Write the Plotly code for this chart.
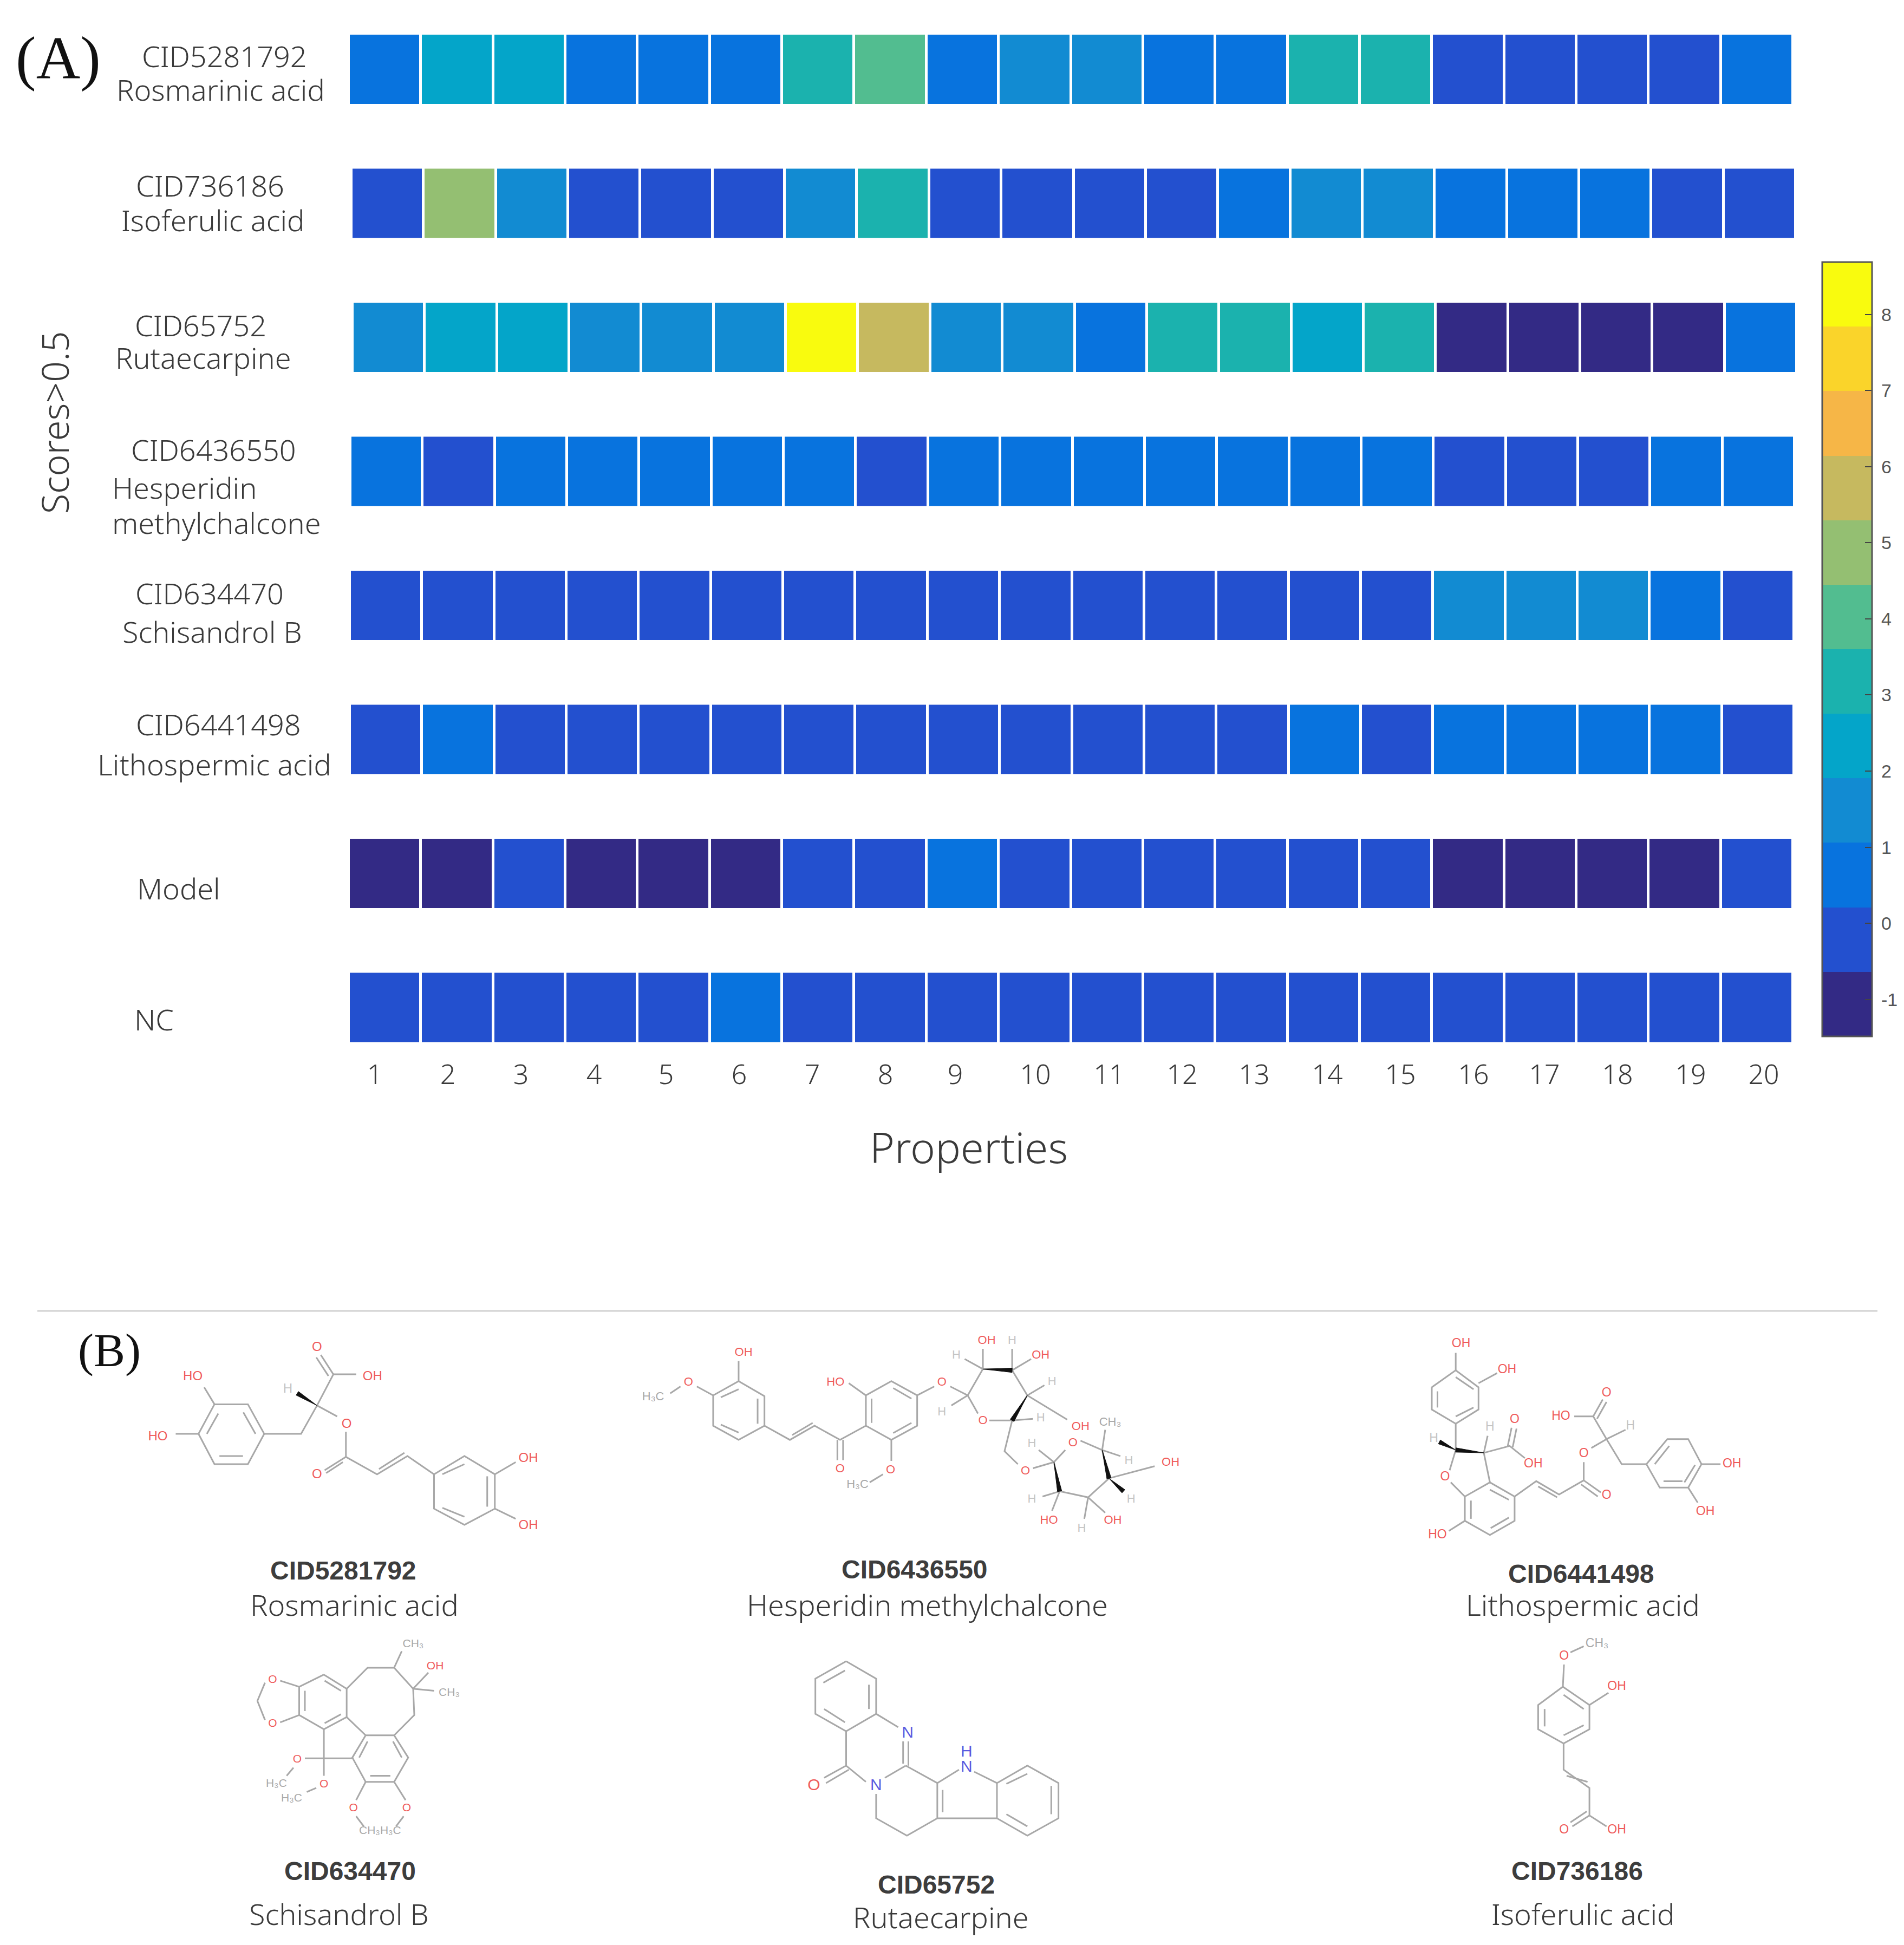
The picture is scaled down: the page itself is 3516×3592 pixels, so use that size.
import plotly.graph_objects as go

W, H = 3516, 3592
PAGE = 8   # the page's own margin

# ---------- chart values ----------
properties = list(range(1, 21))
compounds = ["CID5281792", "CID736186", "CID65752", "CID6436550",
             "CID634470", "CID6441498", "Model", "NC"]
# colour-band values
D, R, B, M, C, T, G, P, K, Y = -1, 0, 1, 1.5, 2, 3, 4, 5, 5.7, 8
cid5281792 = [B, C, C, B, B, B, T, G, B, M, M, B, B, T, T, R, R, R, R, B]
cid736186  = [R, P, M, R, R, R, M, T, R, R, R, R, B, M, M, B, B, B, R, R]
cid65752   = [M, C, C, M, M, M, Y, K, M, M, B, T, T, C, T, D, D, D, D, B]
cid6436550 = [B, R, B, B, B, B, B, R, B, B, B, B, B, B, B, R, R, R, B, B]
cid634470  = [R, R, R, R, R, R, R, R, R, R, R, R, R, R, R, M, M, M, B, R]
cid6441498 = [R, B, R, R, R, R, R, R, R, R, R, R, R, B, R, B, B, B, B, R]
model      = [D, D, R, D, D, D, R, R, B, R, R, R, R, R, R, D, D, D, D, R]
nc         = [R, R, R, R, R, B, R, R, R, R, R, R, R, R, R, R, R, R, R, R]
rows = [cid5281792, cid736186, cid65752, cid6436550, cid634470, cid6441498, model, nc]
colorbar_ticks = [-1, 0, 1, 2, 3, 4, 5, 6, 7, 8]

# ---------- styling / layout ----------
band_colors = ["#332a85", "#2350cf", "#0873de", "#128bd2", "#04a5c9", "#1bb2ae",
               "#52bd90", "#94bf72", "#c6b95f", "#f6b647", "#fad42a", "#f9fb0e"]
zmin, zmax = -1.486, 8.687
colorscale = []
for i, col in enumerate(band_colors):
    colorscale += [[i / 12, col], [(i + 1) / 12, col]]

cell_w = 133.35
pitch = 247.5
x_left = 644
row0 = 128
row_left_px = [644, 649, 651, 647, 646, 646, 644, 644]
tick_px = [692, 827, 962, 1097, 1230, 1365, 1500, 1635, 1764, 1912,
           2048, 2183, 2316, 2451, 2586, 2721, 2852, 2987, 3122, 3257]
plot_bottom = 1951
cbar_top, cbar_bottom = 484, 1914

def p_of(px):
    return 0.5 + (px - x_left) / cell_w

def r_of(px):
    return (px - row0) / pitch

fig = go.Figure()
for i, vals in enumerate(rows):
    fig.add_trace(go.Heatmap(
        z=[vals], x0=p_of(row_left_px[i]) + 0.5, dx=1, y0=i, dy=128 / pitch,
        coloraxis="coloraxis", xgap=5, ygap=0, xaxis="x", yaxis="y",
        name=compounds[i], hoverongaps=False))

# ---------- text ----------
SANS = "Noto Sans"
texts = [
    ("CID5281792", 414, 103, 54), ("Rosmarinic acid", 407, 165, 54),
    ("CID736186", 388, 342, 54), ("Isoferulic acid", 393, 406, 54),
    ("CID65752", 370, 600, 54), ("Rutaecarpine", 375, 660, 54),
    ("CID6436550", 394, 830, 54), ("Hesperidin", 340, 900, 54),
    ("methylchalcone", 400, 965, 54),
    ("CID634470", 387, 1095, 54), ("Schisandrol B", 392, 1166, 54),
    ("CID6441498", 403, 1337, 54), ("Lithospermic acid", 396, 1411, 54),
    ("Model", 330, 1640, 54), ("NC", 284, 1882, 54),
    ("Properties", 1789, 2118, 78),
    ("Rosmarinic acid", 654, 2963, 54), ("Schisandrol B", 626, 3534, 54),
    ("Hesperidin methylchalcone", 1712, 2963, 54), ("Rutaecarpine", 1737, 3540, 54),
    ("Lithospermic acid", 2923, 2963, 54), ("Isoferulic acid", 2923, 3534, 54),
]
cid_texts = [
    ("CID5281792", 634, 2900), ("CID634470", 646, 3455),
    ("CID6436550", 1689, 2898), ("CID65752", 1729, 3480),
    ("CID6441498", 2920, 2906), ("CID736186", 2912, 3455),
]
annotations = []
def note(t, x, y, size, family=SANS, color="#3a3a3a", weight=300, angle=0, anchor="center"):
    annotations.append(dict(text=t, x=x, y=y, xref="x2", yref="y2", showarrow=False,
                            xanchor=anchor, yanchor="middle", textangle=angle,
                            font=dict(family=family, size=size, color=color, weight=weight)))
for t, x, y, s in texts:
    note(t, x, y, s)
for t, x, y in cid_texts:
    note(t, x, y, 48, family="Liberation Sans", color="#3d3d3d", weight=700)
note("(A)", 107, 106, 113, family="Liberation Serif", color="#111111", weight=400)
note("(B)", 202, 2493, 87, family="Liberation Serif", color="#111111", weight=400)
note("Scores&gt;0.5", 100, 780, 68, angle=-90)
# colour bar numbers: placed from the same value scale as the bar itself
for v in colorbar_ticks:
    note(str(v), 3472, cbar_top + (zmax - v) / (zmax - zmin) * (cbar_bottom - cbar_top), 34,
         family="Liberation Sans", color="#555555", weight=400, anchor="left")

# ---------- structures of panel B (drawn as line diagrams) ----------
GREY = "#a8a8a8"
RED = "#ef5a5a"
BLUE = "#5a5ae0"
SOFT = "#c4c4c4"

def ring(*pts):
    return list(pts) + [pts[0]]

mol_rosmarinic = dict(origin=(100, 2420), size=24, lines=[
    ring((380,305),(422,232),(510,232),(553,305),(510,380),(422,380)),
    [(402,305),(432,255)], [(498,252),(530,305)], [(435,360),(497,360)],
    [(395,190),(422,232)], [(320,305),(380,305)],
    [(553,305),(650,305),(692,235),(735,158),(795,158)],
    [(735,158),(702,110)], [(722,162),(690,116)],
    [(692,235),(745,262)], [(768,300),(768,362),(850,405),(930,360),(1000,405)],
    [(768,362),(712,395)], [(760,375),(716,402)], [(855,392),(922,352)],
    ring((1000,405),(1080,360),(1160,405),(1160,490),(1080,530),(1000,490)),
    [(1022,405),(1080,380)], [(1140,410),(1140,485)], [(1022,488),(1080,510)],
    [(1160,405),(1215,375)], [(1160,490),(1215,515)]],
    wedges=[((692,235),(640,205))],
    labels=[("HO",365,165,RED),("HO",273,313,RED),("O",692,92,RED),("OH",838,165,RED),
            ("H",615,195,SOFT),("O",770,282,RED),("O",692,407,RED),("OH",1248,367,RED),("OH",1248,533,RED)])

mol_schisandrol = dict(origin=(100, 2420), size=21, lines=[
    ring((710,900),(770,935),(770,1005),(710,1035),(645,1000),(645,930)),
    [(660,940),(660,990)], [(712,915),(755,940)], [(712,1020),(755,998)],
    [(645,930),(595,915)], [(645,1000),(595,1018)], [(555,920),(535,965),(555,1012)],
    [(770,935),(825,883),(895,883),(945,935),(948,1000),(895,1050)], [(820,1050),(770,1005)],
    [(895,883),(915,842)], [(945,935),(985,895)], [(945,935),(1000,940)],
    ring((820,1050),(895,1050),(932,1105),(895,1165),(820,1165),(785,1105)),
    [(825,1065),(803,1105)], [(892,1065),(915,1105)], [(832,1150),(885,1150)],
    [(710,1035),(710,1150)], [(660,1107),(785,1107)],
    [(630,1130),(612,1150)], [(690,1180),(665,1190)],
    [(820,1165),(795,1210)], [(895,1165),(925,1210)], [(795,1250),(815,1275)], [(920,1250),(900,1275)]],
    wedges=[],
    labels=[("O",575,913,RED),("O",575,1022,RED),("CH₃",945,825,GREY),("OH",1003,880,RED),
            ("CH₃",1040,945,GREY),("O",640,1110,RED),("O",710,1172,RED),("H₃C",585,1170,GREY),
            ("H₃C",625,1207,GREY),("O",788,1230,RED),("O",928,1230,RED),("CH₃H₃C",858,1287,GREY)])

mol_hesperidin = dict(origin=(1150, 2420), size=22, lines=[
    ring((238,210),(305,175),(373,212),(373,285),(305,320),(238,285)),
    [(258,215),(305,195)], [(355,218),(355,280)], [(258,282),(305,302)],
    [(305,175),(305,125)], [(238,210),(195,188)], [(152,188),(125,205)],
    [(373,285),(440,320),(505,285),(572,320),(640,285)], [(446,308),(500,278)],
    [(565,320),(565,370)], [(580,320),(580,370)],
    ring((640,285),(640,210),(707,175),(775,210),(775,285),(707,320)),
    [(655,278),(655,218)], [(712,192),(760,218)], [(712,303),(760,278)],
    [(640,210),(595,180)], [(775,210),(820,188)], [(707,320),(707,372)], [(685,405),(650,425)],
    [(862,188),(908,210),(948,145),(1025,148),(1065,210),(1025,272),(965,272)], [(908,210),(935,255)],
    [(948,145),(948,95)], [(948,145),(900,120)], [(1025,148),(1025,95)], [(1025,148),(1075,120)],
    [(1065,210),(1110,185)], [(1065,210),(1170,270)], [(908,210),(865,235)], [(1025,272),(1080,268)],
    [(1025,272),(1005,348),(1040,380)], [(1080,390),(1135,375)],
    [(1135,375),(1165,345)], [(1205,322),(1262,345),(1280,415),(1225,462),(1150,447),(1135,375)],
    [(1262,345),(1270,295)], [(1262,345),(1310,360)], [(1280,415),(1400,385)],
    [(1225,462),(1215,515)], [(1225,462),(1270,500)], [(1150,447),(1130,495)],
    [(1150,447),(1105,460)], [(1135,375),(1095,345)]],
    wedges=[((948,145),(1025,148)), ((1065,210),(1025,272)), ((1135,375),(1150,447)),
            ((1262,345),(1280,415)), ((1280,415),(1318,447))],
    labels=[("OH",318,105,RED),("O",173,178,RED),("H₃C",80,215,GREY),("HO",560,178,RED),
            ("O",840,178,RED),("O",572,393,RED),("O",705,395,RED),("H₃C",618,432,GREY),
            ("OH",958,75,RED),("H",878,112,SOFT),("H",1025,75,SOFT),("OH",1100,112,RED),
            ("H",1130,177,SOFT),("OH",1205,288,RED),("H",840,252,SOFT),("H",1100,267,SOFT),
            ("O",948,273,RED),("O",1060,398,RED),("O",1185,328,RED),("CH₃",1283,278,GREY),
            ("H",1332,372,SOFT),("OH",1442,377,RED),("H",1338,467,SOFT),("H",1208,540,SOFT),
            ("OH",1290,520,RED),("HO",1122,520,RED),("H",1077,467,SOFT),("H",1077,330,SOFT)])

mol_rutaecarpine = dict(origin=(1150, 2420), size=30, lines=[
    ring((588,867),(667,910),(667,997),(588,1040),(507,997),(507,910)),
    [(585,890),(528,920)], [(648,925),(648,985)], [(530,985),(585,1018)],
    [(667,997),(725,1030)], [(738,1065),(738,1120)], [(752,1065),(752,1125)],
    [(745,1125),(690,1155)], [(640,1165),(588,1125),(588,1040)],
    [(588,1125),(530,1155)], [(595,1135),(535,1168)],
    [(667,1195),(667,1255),(748,1298),(828,1255),(828,1168),(745,1125)],
    [(828,1168),(885,1135)], [(925,1140),(985,1168)], [(828,1255),(985,1255)],
    [(842,1185),(842,1240)],
    ring((985,1168),(1065,1125),(1147,1168),(1147,1255),(1065,1298),(985,1255)),
    [(1010,1170),(1065,1145)], [(1128,1175),(1128,1245)], [(1010,1245),(1065,1275)]],
    wedges=[],
    labels=[("N",750,1045,BLUE),("N",667,1175,BLUE),("O",503,1175,RED),("N",905,1130,BLUE),("H",905,1092,BLUE)])

mol_lithospermic = dict(origin=(2416, 2420), size=23, lines=[
    ring((325,190),(388,148),(448,190),(448,245),(388,280),(325,245)),
    [(340,200),(340,240)], [(388,165),(435,195)], [(388,262),(435,240)],
    [(388,148),(388,105)], [(448,180),(497,155)], [(388,280),(388,345)],
    [(388,345),(372,395)], [(462,352),(472,310)], [(462,352),(530,335),(570,365)],
    [(525,335),(535,290)], [(538,338),(548,292)], [(462,352),(478,425)],
    ring((478,425),(543,460),(543,520),(478,555),(412,520),(412,460)),
    [(428,470),(428,515)], [(478,443),(528,468)], [(480,538),(528,512)],
    [(375,425),(412,460)], [(412,520),(370,545)],
    [(543,460),(600,422),(660,455),(725,420)], [(605,435),(655,462)],
    [(725,420),(770,450)], [(718,430),(762,460)], [(725,420),(725,375)],
    [(745,340),(785,318),(750,262),(700,262)], [(750,262),(775,220)], [(760,268),(785,226)],
    [(785,318),(825,380),(890,380)], [(785,318),(835,295)],
    ring((890,380),(945,318),(1000,318),(1035,380),(1000,438),(925,438)),
    [(912,380),(950,335)], [(1018,382),(990,425)], [(935,422),(985,422)],
    [(1035,380),(1085,380)], [(1000,438),(1025,475)]],
    wedges=[((388,345),(345,325)), ((462,352),(388,345))],
    labels=[("OH",402,83,RED),("OH",523,148,RED),("H",330,317,SOFT),("O",360,412,RED),
            ("H",478,290,SOFT),("OH",592,380,RED),("O",543,270,RED),("HO",340,555,RED),
            ("O",785,458,RED),("O",725,355,RED),("HO",665,262,RED),("O",785,205,RED),
            ("H",848,287,SOFT),("OH",1115,380,RED),("OH",1045,498,RED)])

mol_isoferulic = dict(origin=(2416, 2420), size=23, lines=[
    [(690,845),(725,830)], [(673,875),(670,930)],
    ring((670,930),(740,975),(740,1035),(672,1070),(605,1035),(605,975)),
    [(622,985),(622,1028)], [(672,950),(725,985)], [(672,1050),(725,1025)],
    [(740,975),(790,945)], [(672,1070),(672,1135),(740,1180),(740,1248)], [(680,1150),(735,1165)],
    [(740,1248),(695,1275)], [(733,1238),(690,1265)], [(740,1248),(785,1275)]],
    wedges=[],
    labels=[("O",673,855,RED),("CH₃",760,825,GREY),("OH",812,930,RED),("O",673,1285,RED),("OH",812,1285,RED)])

molecules = [mol_rosmarinic, mol_schisandrol, mol_hesperidin,
             mol_rutaecarpine, mol_lithospermic, mol_isoferulic]

for m in molecules:
    ox, oy = m["origin"]
    tx = lambda v: ox + v / 1.4255
    ty = lambda v: oy + v / 1.338
    xs, ys = [], []
    for line in m["lines"]:
        xs += [tx(p[0]) for p in line] + [None]
        ys += [ty(p[1]) for p in line] + [None]
    fig.add_trace(go.Scatter(x=xs, y=ys, mode="lines", xaxis="x2", yaxis="y2",
                             line=dict(color=GREY, width=3), hoverinfo="skip", showlegend=False))
    for a, b in m["wedges"]:
        ax, ay, bx, by = tx(a[0]), ty(a[1]), tx(b[0]), ty(b[1])
        dx, dy = bx - ax, by - ay
        n = (dx * dx + dy * dy) ** 0.5
        nx, ny = -dy / n * 4, dx / n * 4
        fig.add_trace(go.Scatter(x=[ax, bx + nx, bx - nx, ax], y=[ay, by + ny, by - ny, ay],
                                 mode="lines", fill="toself", fillcolor="#111111",
                                 line=dict(color="#111111", width=1), xaxis="x2", yaxis="y2",
                                 hoverinfo="skip", showlegend=False))
    fig.add_trace(go.Scatter(x=[tx(l[1]) for l in m["labels"]], y=[ty(l[2]) for l in m["labels"]],
                             text=[l[0] for l in m["labels"]], mode="text", xaxis="x2", yaxis="y2",
                             textposition="middle center",
                             textfont=dict(family="Liberation Sans", size=m["size"],
                                           color=[l[3] for l in m["labels"]]),
                             hoverinfo="skip", showlegend=False))

# separator between the panels
fig.add_shape(type="line", xref="x2", yref="y2", x0=69, x1=3467, y0=2421, y1=2421,
              line=dict(color="#d2d2d2", width=3))

fig_w, fig_h = W - 2 * PAGE, H - 2 * PAGE
x_lo, x_hi = PAGE, W - PAGE
y_lo, y_hi = PAGE, H - PAGE

fig.update_layout(
    width=fig_w, height=fig_h, margin=dict(l=0, r=0, t=0, b=0), autosize=False,
    paper_bgcolor="white", plot_bgcolor="rgba(0,0,0,0)", showlegend=False,
    annotations=annotations,
    coloraxis=dict(
        cmin=zmin, cmax=zmax, colorscale=colorscale,
        colorbar=dict(
            x=(3365 - PAGE) / fig_w, xanchor="left", xpad=0,
            y=1 - (cbar_top - PAGE) / fig_h, yanchor="top", ypad=0,
            len=cbar_bottom - cbar_top, lenmode="pixels", thickness=92, thicknessmode="pixels",
            outlinecolor="#555555", outlinewidth=3, borderwidth=0,
            tickmode="array", tickvals=colorbar_ticks, showticklabels=False,
            ticks="inside", ticklen=14, tickcolor="#444444", tickwidth=2)),
    xaxis=dict(domain=[0, 1], range=[p_of(x_lo), p_of(x_hi)], anchor="y", showgrid=False, zeroline=False,
               showline=False, ticks="", tickmode="array", tickvals=[p_of(v) for v in tick_px],
               ticktext=[str(v) for v in properties],
               tickfont=dict(family=SANS, size=50, color="#3a3a3a", weight=300)),
    yaxis=dict(domain=[1 - (plot_bottom - PAGE) / fig_h, 1], range=[r_of(plot_bottom), r_of(y_lo)], anchor="x",
               showgrid=False, zeroline=False, showline=False, showticklabels=False, ticks=""),
    xaxis2=dict(domain=[0, 1], range=[x_lo, x_hi], anchor="y2", visible=False),
    yaxis2=dict(domain=[0, 1], range=[y_hi, y_lo], anchor="x2", visible=False),
)

fig.write_html("out.html")
